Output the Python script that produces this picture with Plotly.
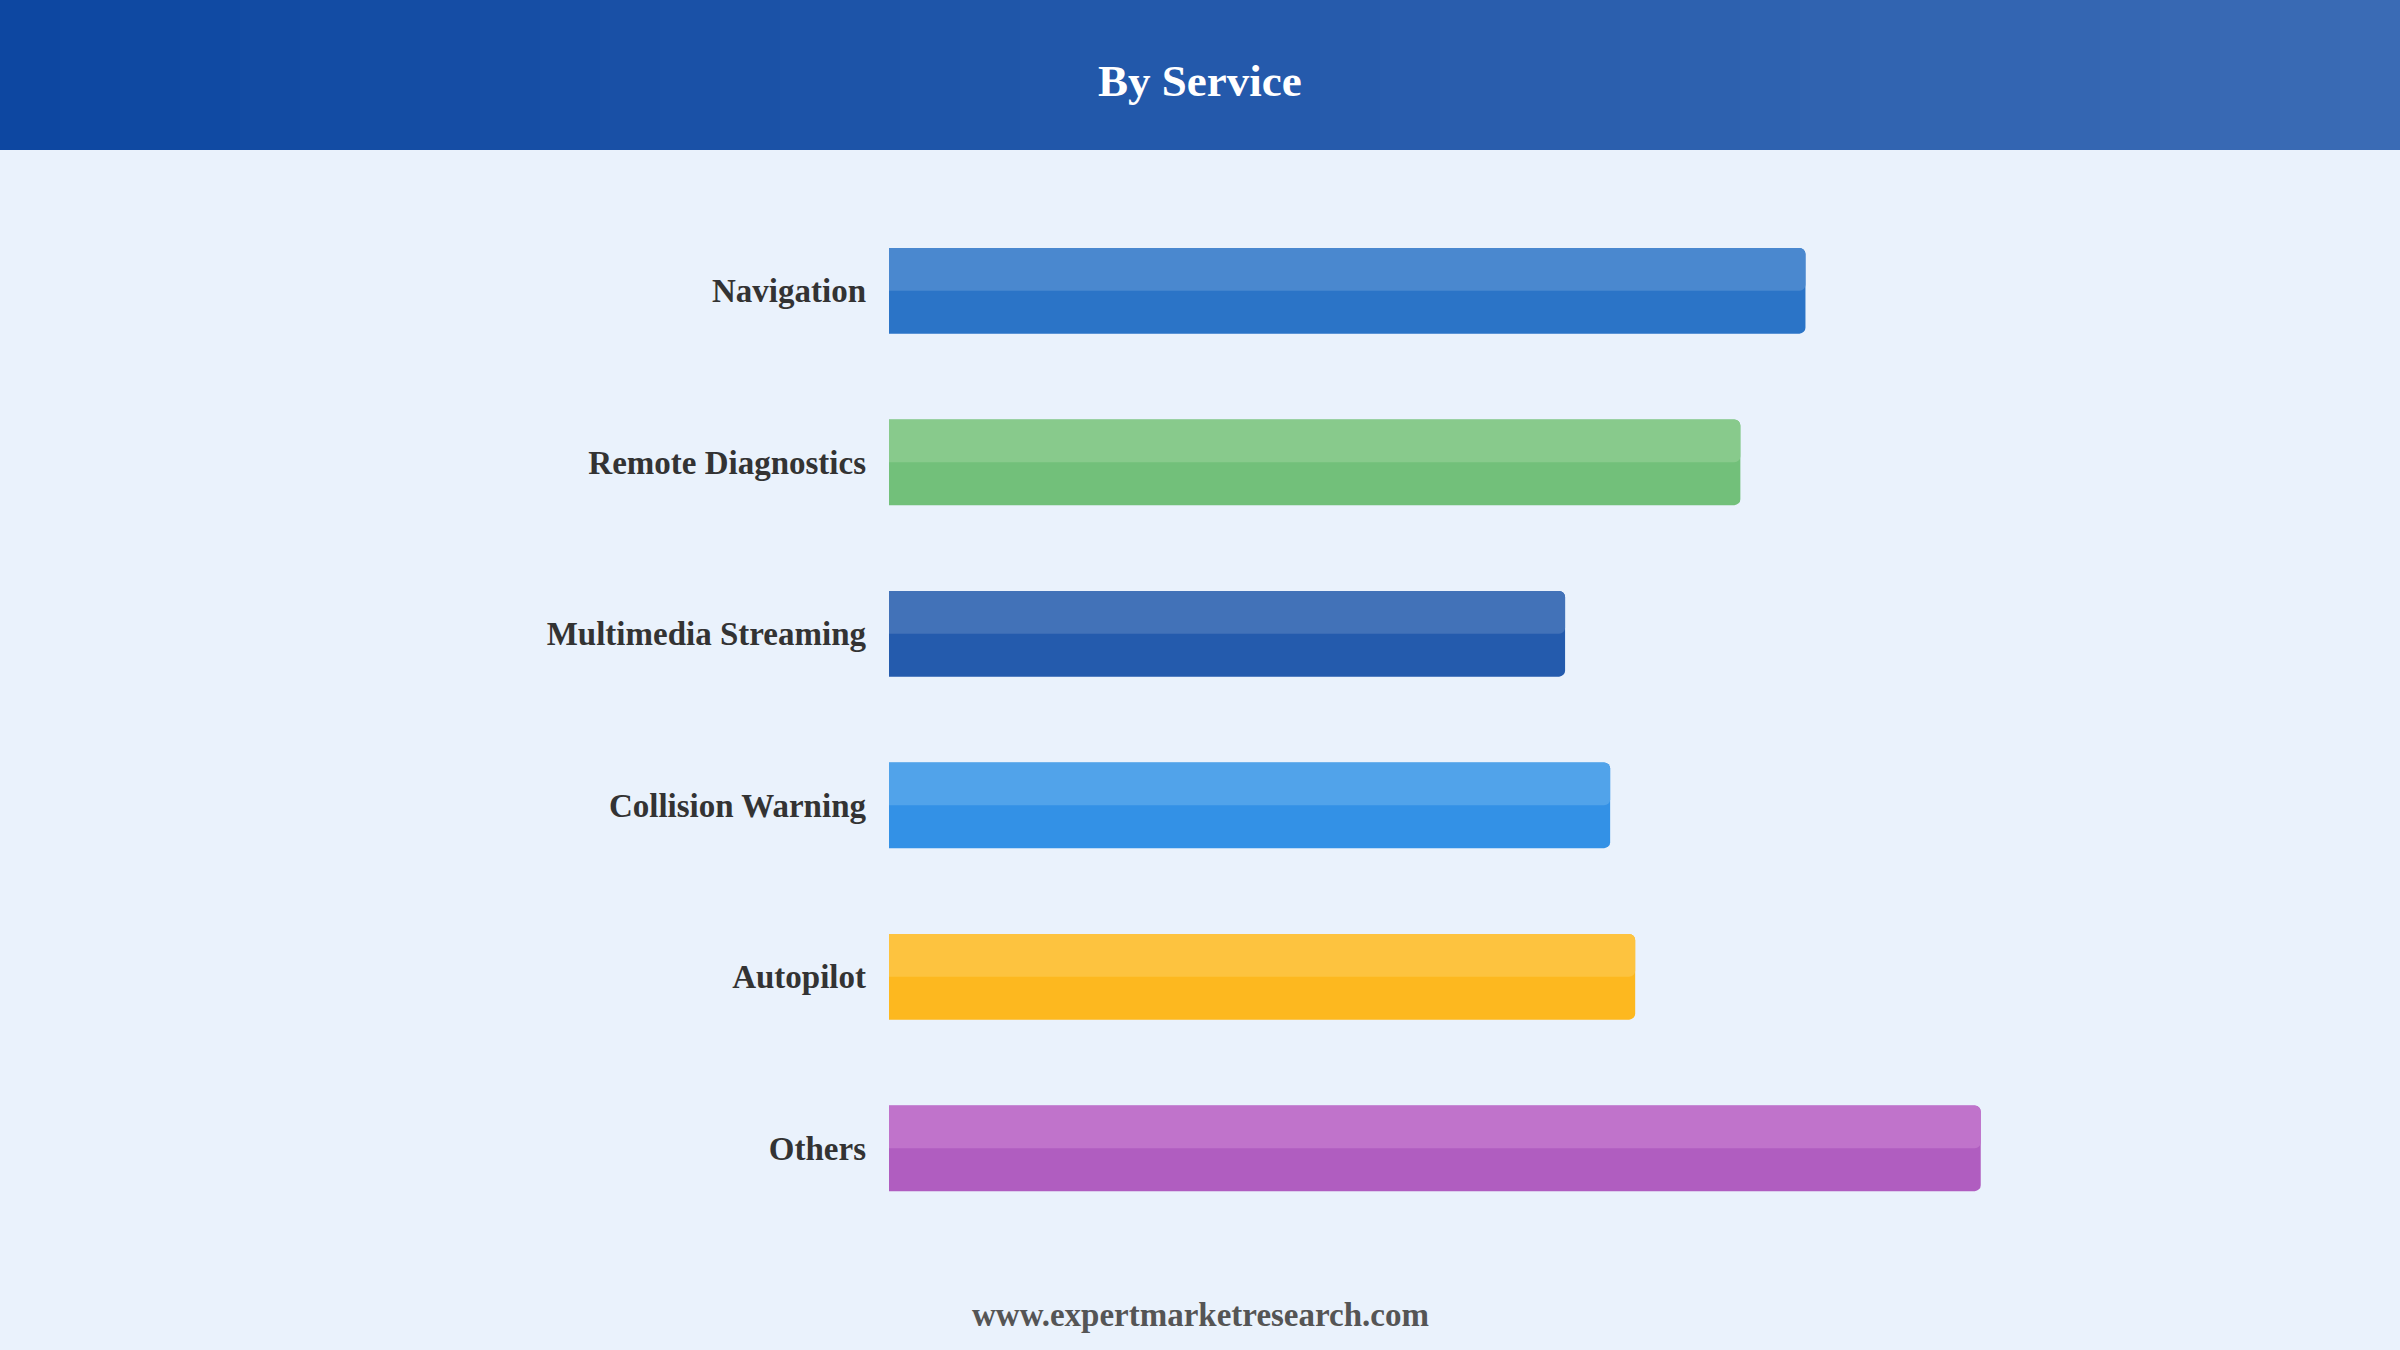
import plotly.graph_objects as go

# market share by service (%)
services = [
    "Navigation",
    "Remote Diagnostics",
    "Multimedia Streaming",
    "Collision Warning",
    "Autopilot",
    "Others",
]
shares = [18.3, 17.0, 13.5, 14.4, 14.9, 21.8]

light_colors = ["#4A88CF", "#88CA8C", "#4272B8", "#51A3EA", "#FDC33F", "#C073CB"]
dark_colors = ["#2B74C7", "#72C07A", "#245BAD", "#3391E6", "#FDB81F", "#B05DC0"]

W, H = 2400, 1350
BG = "#EAF2FC"
SERIF = "Liberation Serif, Times New Roman, serif"

fig = go.Figure()

# full bar in the darker tone
fig.add_trace(
    go.Bar(
        x=shares,
        y=services,
        orientation="h",
        width=0.5,
        offset=-0.25,
        marker=dict(color=dark_colors, line=dict(width=0), cornerradius=6),
        hoverinfo="x+y",
    )
)
# lighter top half
fig.add_trace(
    go.Bar(
        x=shares,
        y=services,
        orientation="h",
        width=0.25,
        offset=-0.25,
        marker=dict(color=light_colors, line=dict(width=0), cornerradius=6),
        hoverinfo="skip",
    )
)

top_m, bot_m = 205, 116
left_m = 889
right_m = W - left_m - 1252
plot_h = H - top_m - bot_m
plot_w = W - left_m - right_m


def px_x(x):
    # figure pixel -> paper x
    return (x - left_m) / plot_w


def px_y(y):
    # figure pixel (from top) -> paper y
    return (H - y - bot_m) / plot_h


# header band, thin stripes to fake the gradient
c0 = (13, 71, 161)
c1 = (58, 107, 181)
n_strips = 40
header_shapes = []
for i in range(n_strips):
    t = i / (n_strips - 1)
    col = tuple(round(a + (b - a) * t) for a, b in zip(c0, c1))
    header_shapes.append(
        dict(
            type="rect",
            xref="paper",
            yref="paper",
            x0=px_x(i * W / n_strips),
            x1=px_x((i + 1) * W / n_strips + 2),
            y0=px_y(150),
            y1=px_y(-5),
            line=dict(width=0),
            fillcolor="rgb(%d,%d,%d)" % col,
            layer="below",
        )
    )

fig.update_layout(
    width=W,
    height=H,
    barmode="overlay",
    showlegend=False,
    paper_bgcolor=BG,
    plot_bgcolor=BG,
    margin=dict(l=left_m, r=right_m, t=top_m, b=bot_m, pad=0),
    font=dict(family=SERIF, color="#333333"),
    shapes=header_shapes,
    xaxis=dict(range=[0, 25], visible=False, showgrid=False, zeroline=False),
    yaxis=dict(
        autorange="reversed",
        showgrid=False,
        zeroline=False,
        showline=False,
        ticks="",
        ticklabelstandoff=22,
        tickfont=dict(family=SERIF, size=33, color="#333333", weight="bold"),
    ),
    annotations=[
        dict(
            text="<b>By Service</b>",
            xref="paper",
            yref="paper",
            x=px_x(W / 2),
            y=px_y(81),
            xanchor="center",
            yanchor="middle",
            showarrow=False,
            font=dict(family=SERIF, size=45, color="white"),
        ),
        dict(
            text="<b>www.expertmarketresearch.com</b>",
            xref="paper",
            yref="paper",
            x=px_x(W / 2),
            y=px_y(1315),
            xanchor="center",
            yanchor="middle",
            showarrow=False,
            font=dict(family=SERIF, size=33, color="#555555"),
        ),
    ],
)

fig.write_html(
    "out.html",
    config=dict(displayModeBar=False),
    post_script="document.body.style.margin='0';document.body.style.background='%s';" % BG,
)
